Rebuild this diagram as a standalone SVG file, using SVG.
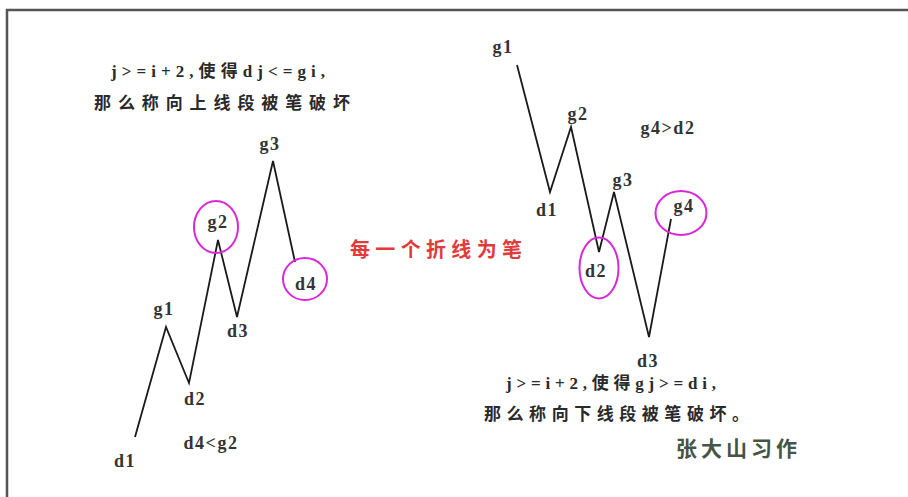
<svg xmlns="http://www.w3.org/2000/svg" width="908" height="497" viewBox="0 0 908 497">
<style>
.lbl{font-family:"Liberation Serif","Noto Sans CJK SC",serif;font-size:18px;font-weight:bold;fill:#333333;text-anchor:middle;letter-spacing:1.5px}
.note{font-family:"Liberation Serif","Noto Sans CJK SC",serif;font-size:17px;font-weight:bold;fill:#2a2a2a}
.red{font-family:"Noto Sans CJK SC",sans-serif;font-size:20px;font-weight:bold;fill:#e23a3a}
.sig{font-family:"Noto Sans CJK SC",sans-serif;font-size:21px;font-weight:bold;fill:#465446}
.ring{fill:none;stroke:#d828d8;stroke-width:2}
.stroke{fill:none;stroke:#1a1a1a;stroke-width:1.8;stroke-linejoin:miter}
</style>
<rect width="908" height="497" fill="#ffffff"/>
<path d="M7,497 V10 H908" fill="none" stroke="#555" stroke-width="2.5"/>

<g id="connectors">
<polyline class="stroke" points="135,437 166,327 189,383 218,240 237,317 273,161 295,262"/>
<polyline class="stroke" points="517,65 550,192 571,127 599,252 614,192 649,337 671,219"/>
</g>

<g id="left-d1"><text class="lbl" x="125" y="467">d1</text></g>
<g id="left-g1"><text class="lbl" x="164" y="315">g1</text></g>
<g id="left-d2"><text class="lbl" x="195" y="405">d2</text></g>
<g id="left-g2"><ellipse class="ring" cx="216" cy="227" rx="22" ry="26"/><text class="lbl" x="218" y="228">g2</text></g>
<g id="left-d3"><text class="lbl" x="238" y="337">d3</text></g>
<g id="left-g3"><text class="lbl" x="270" y="150">g3</text></g>
<g id="left-d4"><ellipse class="ring" cx="305" cy="279" rx="22" ry="21"/><text class="lbl" x="306" y="290">d4</text></g>
<g id="left-cond"><text class="lbl" x="211" y="449">d4&lt;g2</text></g>

<g id="right-g1"><text class="lbl" x="503" y="53">g1</text></g>
<g id="right-d1"><text class="lbl" x="547" y="216">d1</text></g>
<g id="right-g2"><text class="lbl" x="578" y="120">g2</text></g>
<g id="right-d2"><ellipse class="ring" cx="599" cy="268" rx="19.5" ry="30.5"/><text class="lbl" x="596" y="277">d2</text></g>
<g id="right-g3"><text class="lbl" x="623" y="186">g3</text></g>
<g id="right-d3"><text class="lbl" x="648" y="367">d3</text></g>
<g id="right-g4"><ellipse class="ring" cx="681" cy="213" rx="25.5" ry="22"/><text class="lbl" x="684" y="212">g4</text></g>
<g id="right-cond"><text class="lbl" x="668" y="134">g4&gt;d2</text></g>

<g id="note-up">
<text class="note" x="111" y="77" textLength="214" lengthAdjust="spacing">j&gt;=i+2,使得dj&lt;=gi,</text>
<text class="note" x="94" y="109" textLength="256" lengthAdjust="spacing">那么称向上线段被笔破坏</text>
</g>
<g id="note-down">
<text class="note" x="506" y="389" textLength="210" lengthAdjust="spacing">j&gt;=i+2,使得gj&gt;=di,</text>
<text class="note" x="484" y="420" textLength="265" lengthAdjust="spacing">那么称向下线段被笔破坏。</text>
</g>
<g id="title"><text class="red" x="350" y="257" textLength="172" lengthAdjust="spacing">每一个折线为笔</text></g>
<g id="signature"><text class="sig" x="676" y="456" textLength="121" lengthAdjust="spacing">张大山习作</text></g>
</svg>
